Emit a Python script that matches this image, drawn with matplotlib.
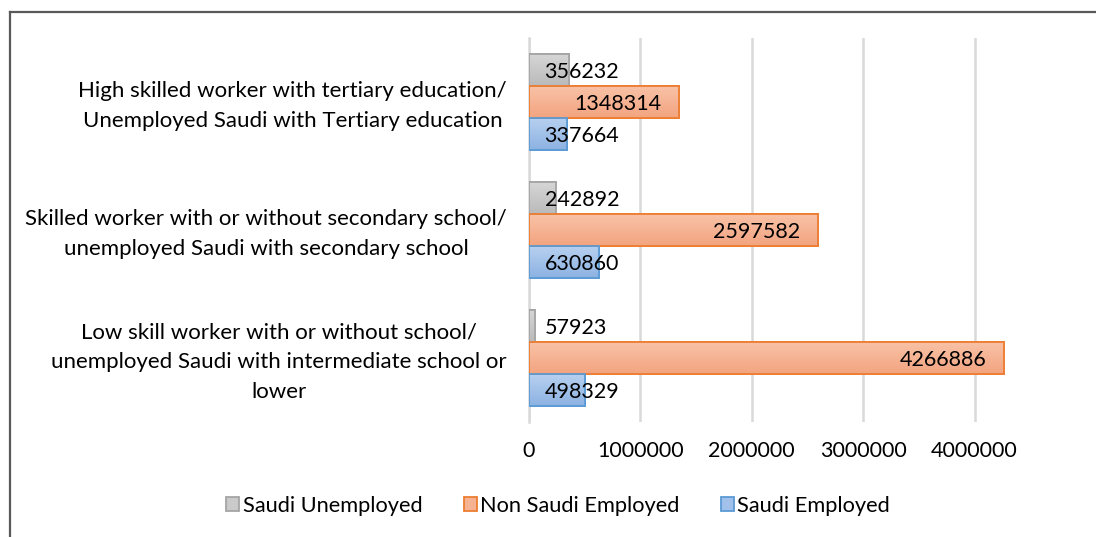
import matplotlib
matplotlib.use("Agg")
import matplotlib.pyplot as plt
import numpy as np
from matplotlib.patches import Rectangle
from matplotlib.lines import Line2D

plt.rcParams['font.family'] = ['Lato', 'DejaVu Sans']

categories = [
    "Low skill worker with or without school/\nunemployed Saudi with intermediate school or\nlower",
    "Skilled worker with or without secondary school/\nunemployed Saudi with secondary school",
    "High skilled worker with tertiary education/\nUnemployed Saudi with Tertiary education",
]
series_names = ["Saudi Unemployed", "Non Saudi Employed", "Saudi Employed"]
saudi_unemployed = [57923, 242892, 356232]
non_saudi_employed = [4266886, 2597582, 1348314]
saudi_employed = [498329, 630860, 337664]
x_ticks = [0, 1000000, 2000000, 3000000, 4000000]

series_values = [saudi_unemployed, non_saudi_employed, saudi_employed]
grad_top = ["#d6d6d6", "#f8c2a6", "#b7d0f0"]
grad_bot = ["#bababa", "#f3a480", "#8cb2e2"]
edges = ["#a5a5a5", "#ed7d31", "#5b9bd5"]
offsets = [0.25, 0.0, -0.25]
bar_h = 0.25

W, H = 1096, 537
fig = plt.figure(figsize=(W / 100, H / 100), dpi=100)
fig.patch.set_facecolor("white")

ax_l, ax_r = 529, 1008
ax_t, ax_b = 38, 422
ax = fig.add_axes([ax_l / W, 1 - ax_b / H, (ax_r - ax_l) / W, (ax_b - ax_t) / H])

y = np.arange(len(categories))
FS_NUM = 15.5
FS_CAT = 16
FS_LEG = 15.7

def hex2rgb(h):
    h = h.lstrip('#')
    return np.array([int(h[i:i + 2], 16) / 255 for i in (0, 2, 4)])

for vals, off, gt, gb, ec in zip(series_values, offsets, grad_top, grad_bot, edges):
    bars = ax.barh(y + off, vals, height=bar_h, color=gb, edgecolor=ec, linewidth=1.3, zorder=3)
    t = hex2rgb(gt)
    b = hex2rgb(gb)
    ramp = np.linspace(0, 1, 64)[:, None]
    grad = (t[None, :] * (1 - ramp) + b[None, :] * ramp)[:, None, :]
    for p in bars:
        x0, y0 = p.get_x(), p.get_y()
        w, h = p.get_width(), p.get_height()
        im = ax.imshow(grad, extent=[x0, x0 + w, y0, y0 + h], origin='upper',
                       aspect='auto', zorder=3.5, interpolation='bilinear')
        im.set_clip_path(p)
        ax.add_patch(Rectangle((x0, y0), w, h, facecolor='none', edgecolor=ec,
                               linewidth=1.3, zorder=4))
        v = w
        if v < 1000000:
            ax.text(140000, y0 + h / 2, f"{int(v)}", ha='left', va='center_baseline',
                    fontsize=FS_NUM, color='black', zorder=5)
        else:
            ax.text(v - 160000, y0 + h / 2, f"{int(v)}", ha='right', va='center_baseline',
                    fontsize=FS_NUM, color='black', zorder=5)

ax.set_xlim(0, 4300000)
ax.set_ylim(-0.5, 2.5)
ax.set_xticks(x_ticks)
ax.set_xticklabels([str(v) for v in x_ticks], fontsize=FS_NUM)
ax.set_yticks(y + 0.02)
ax.set_yticklabels(categories, fontsize=FS_CAT)
for lab in ax.get_yticklabels():
    lab.set_multialignment('center')
    lab.set_linespacing(1.6)
ax.tick_params(axis='both', length=0)
ax.tick_params(axis='y', pad=16)
ax.tick_params(axis='x', pad=14)
ax.xaxis.grid(True, color="#d9d9d9", linewidth=1.8, zorder=0)
ax.set_axisbelow(True)
for s in ['top', 'right', 'bottom']:
    ax.spines[s].set_visible(False)
ax.spines['left'].set_color("#d9d9d9")
ax.spines['left'].set_linewidth(1.8)

handles = [Rectangle((0, 0), 1, 1, facecolor=gc, edgecolor=ec, linewidth=1.3)
           for gc, ec in zip(["#cacaca", "#f6b394", "#a2c1ea"], edges)]
leg = fig.legend(handles, series_names, loc='center', bbox_to_anchor=(558 / W, 1 - 506 / H),
                 ncol=3, frameon=False, fontsize=FS_LEG, handlelength=0.6, handleheight=0.6,
                 handletextpad=0.15, columnspacing=1.9)

fig.add_artist(Line2D([10 / W, 1.0], [1 - 12 / H, 1 - 12 / H], color="#595959", linewidth=1.6))
fig.add_artist(Line2D([10 / W, 10 / W], [1 - 12 / H, 0], color="#595959", linewidth=1.6))

fig.savefig("out.png", dpi=100)
